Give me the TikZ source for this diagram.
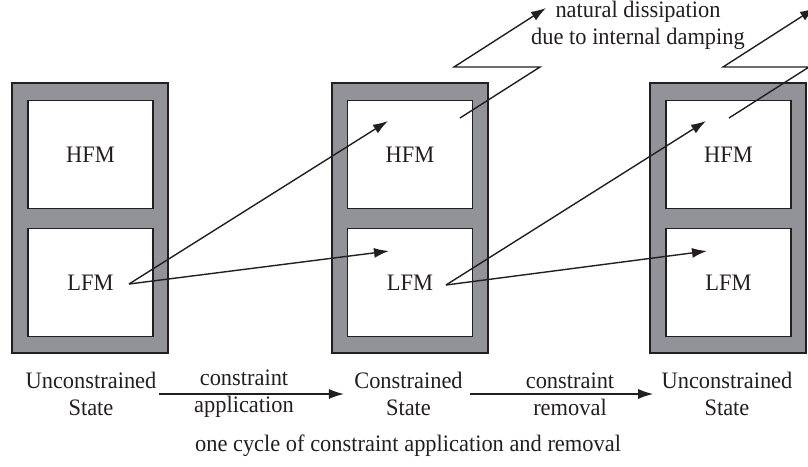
\documentclass[tikz,border=0pt]{standalone}
\usepackage{fontspec}
\setmainfont[FakeStretch=0.95]{Liberation Serif}
\usetikzlibrary{arrows.meta}
\definecolor{framegray}{HTML}{929398}
\definecolor{ink}{HTML}{231F20}
\begin{document}
\begin{tikzpicture}[x=0.5pt,y=-0.5pt,
  outer/.style={draw=ink, line width=0.8pt, fill=framegray, minimum width=78pt, minimum height=135pt, inner sep=0pt},
  mode/.style={draw=ink, line width=0.8pt, fill=white, minimum width=62.5pt, minimum height=54pt, inner sep=0pt, text=ink, font=\fontsize{11.8}{13.5}\selectfont},
  lbl/.style={align=center, font=\fontsize{11.8}{13.5}\selectfont, inner sep=0pt, text=ink},
  conn/.style={draw=ink, line width=0.7pt, -{Latex[length=7.5pt,width=5pt]}},
  plain/.style={draw=ink, line width=0.7pt}]
\useasboundingbox (0,0) rectangle (808,466);
\clip (0,0) rectangle (808,466);

% blocks
\node[outer] (o1) at (90,218) {};
\node[outer] (o2) at (410,218) {};
\node[outer] (o3) at (728,218) {};

\node[mode] (h1) at (90.5,154.5) {HFM};
\node[mode] (l1) at (90.5,282.5) {LFM};
\node[mode] (h2) at (410,154.5) {HFM};
\node[mode] (l2) at (410,282.5) {LFM};
\node[mode] (h3) at (728.5,154.5) {HFM};
\node[mode] (l3) at (728.5,282.5) {LFM};

% connector points
\coordinate (s1) at (129,284);
\coordinate (s2) at (446,285);
\coordinate (th2) at (388,121);
\coordinate (tl2) at (389,251);
\coordinate (th3) at (706,121);
\coordinate (tl3) at (707,251);

\draw[conn] (s1) -- (th2);
\draw[conn] (s1) -- (tl2);
\draw[conn] (s2) -- (th3);
\draw[conn] (s2) -- (tl3);

% natural dissipation
\coordinate (d1) at (460,118);
\coordinate (d1a) at (540,67);
\coordinate (d1b) at (454,67);
\coordinate (d1t) at (546,8);
\coordinate (d2) at (729,118);
\coordinate (d2a) at (809,67);
\coordinate (d2b) at (723,67);
\coordinate (d2t) at (815,8);
\draw[conn] (d1) -- (d1a) -- (d1b) -- (d1t);
\draw[conn] (d2) -- (d2a) -- (d2b) -- (d2t);

\node[lbl] (nd) at (638,25) {natural dissipation\\due to internal damping};

% bottom labels
\node[lbl] (u1) at (91,394) {Unconstrained\\State};
\node[lbl] (c2) at (408.5,394) {Constrained\\State};
\node[lbl] (u3) at (727,394) {Unconstrained\\State};
\node[lbl] (a1) at (244,394) {constraint\\application};
\node[lbl] (a2) at (570,394) {constraint\\removal};

\draw[conn] ([xshift=1pt]u1.east) -- ([xshift=-5pt]c2.west);
\draw[conn] ([xshift=3.5pt]c2.east) -- ([xshift=-4pt]u3.west);

\node[lbl] (cyc) at (408,446) {one cycle of constraint application and removal};
\end{tikzpicture}
\end{document}
